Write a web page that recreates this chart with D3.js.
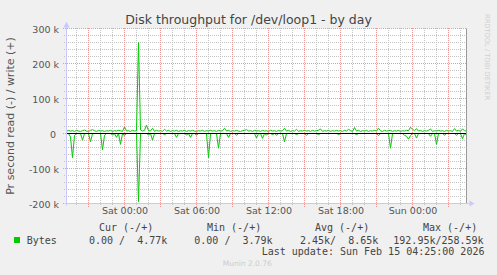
<!DOCTYPE html>
<html><head><meta charset="utf-8">
<script src="https://cdn.jsdelivr.net/npm/d3@7"></script>
<style>
html,body{margin:0;padding:0;background:#f0f0f0;}
svg{display:block;}
text{font-family:"DejaVu Sans",sans-serif;}
.mono{font-family:"DejaVu Sans Mono",monospace;white-space:pre;}
</style></head>
<body>
<svg id="c" width="497" height="275"></svg>
<script>
// ---- data ----
const title = "Disk throughput for /dev/loop1 - by day";
const yLabel = "Pr second read (-) / write (+)";
const startTime = Date.UTC(2026, 1, 13, 19, 10);
const endTime = Date.UTC(2026, 1, 15, 4, 30);
const stepMinutes = 10;
// write (+) in kB/s, one value per 10 minutes
const writeK = [
  6,9,7,8,6,9,7,6,8,10,7,6,9,11,8,6,9,7,8,6,
  8,7,9,6,8,7,9,8,6,19,7,8,6,9,7,8,260,10,7,9,
  24,8,7,15,6,9,7,8,6,12,7,9,6,8,7,9,6,8,7,9,
  6,8,7,9,7,6,8,7,9,6,8,7,9,7,8,6,9,7,8,15,
  7,9,6,8,7,9,7,6,8,9,11,7,8,6,9,7,8,6,9,7,
  8,6,9,7,8,6,9,7,8,15,7,9,6,8,7,12,6,8,7,9,
  7,8,6,9,7,8,9,13,6,8,7,9,6,8,7,9,7,8,6,9,
  7,12,8,6,17,7,9,6,8,7,9,6,8,7,9,7,15,8,6,9,
  7,8,9,6,8,7,9,6,8,7,9,8,18,12,8,14,7,9,6,8,
  7,9,13,6,8,7,9,7,8,6,9,7,8,6,14,7,9,6,13,8,7
];
// read (-) in kB/s, one value per 10 minutes (drawn below zero)
const readK = [
  0,0,10,69,5,0,0,0,19,0,0,0,24,0,0,0,0,0,47,5,
  0,0,0,4,0,11,0,31,0,6,0,0,0,0,0,0,195,0,0,0,
  0,4,0,19,0,0,0,0,0,3,0,0,0,0,0,11,0,0,0,0,
  4,0,11,0,0,5,0,0,0,0,0,69,0,0,0,0,42,0,0,0,
  0,11,0,0,0,5,0,0,0,0,0,0,0,0,0,13,0,0,14,0,
  4,0,0,3,0,5,0,0,0,24,0,0,0,0,0,3,0,0,0,0,
  5,0,0,0,0,0,3,0,0,0,0,0,0,0,0,0,3,0,0,0,
  0,0,0,0,0,3,0,0,0,0,0,0,0,0,0,0,6,0,0,0,
  0,0,42,0,0,0,0,0,0,5,8,16,6,0,0,13,0,0,0,0,
  0,0,8,0,0,31,0,0,0,5,0,0,0,0,0,5,0,0,15,0,4
];
const yTicks = [-200, -100, 0, 100, 200, 300];
const xTickTimes = ["2026-02-14T00:00:00Z","2026-02-14T06:00:00Z","2026-02-14T12:00:00Z","2026-02-14T18:00:00Z","2026-02-15T00:00:00Z"];
const seriesName = "Bytes";
const legendHeaders = ["Cur (-/+)", "Min (-/+)", "Avg (-/+)", "Max (-/+)"];
const legendValues = ["0.00 /  4.77k", "0.00 /  3.79k", "2.45k/  8.65k", "192.95k/258.59k"];
const lastUpdate = "Last update: Sun Feb 15 04:25:00 2026";
const version = "Munin 2.0.76";
const sideText = "RRDTOOL / TOBI OETIKER";

// ---- layout ----
const L = 66.5, R = 466.5, T = 28.5, B = 203.5;
const green = "#00cc00";
const svg = d3.select("#c");

const x = d3.scaleUtc().domain([new Date(startTime), new Date(endTime)]).range([L, R]);
const y = d3.scaleLinear().domain([-200, 300]).range([B, T]);

svg.append("rect").attr("x", L).attr("y", T).attr("width", R - L).attr("height", B - T).attr("fill", "#fff");

// grid (dash starts on whole pixels so dots stay crisp)
const minorY = d3.range(-200, 301, 20).filter(v => v % 100 !== 0);
const hours = d3.utcHour.range(new Date(startTime), new Date(endTime));
const minorX = hours.filter(d => d.getUTCHours() % 3 !== 0);
const majorX = hours.filter(d => d.getUTCHours() % 3 === 0);
const minorCol = "#c4c4c4", majorCol = "#ee9999";
const px = v => Math.round(v - 0.5) + 0.5;
const g = svg.append("g");
g.selectAll(".mgy").data(minorY).join("line")
  .attr("x1", 64).attr("x2", 467).attr("y1", d => px(y(d))).attr("y2", d => px(y(d)))
  .attr("stroke", minorCol).attr("stroke-dasharray", "1,1");
g.selectAll(".mgx").data(minorX).join("line")
  .attr("y1", 28).attr("y2", 206).attr("x1", d => px(x(d))).attr("x2", d => px(x(d)))
  .attr("stroke", minorCol).attr("stroke-dasharray", "1,1");
g.selectAll(".Mgy").data(yTicks).join("line")
  .attr("x1", 63).attr("x2", 467).attr("y1", d => px(y(d))).attr("y2", d => px(y(d)))
  .attr("stroke", majorCol).attr("stroke-dasharray", "1,1");
g.selectAll(".Mgx").data(majorX).join("line")
  .attr("y1", 28).attr("y2", 207).attr("x1", d => px(x(d))).attr("x2", d => px(x(d)))
  .attr("stroke", majorCol).attr("stroke-dasharray", "1,1");

// series
const t = i => new Date(startTime + i * stepMinutes * 60000);
const line = d3.line().x(d => x(d[0])).y(d => y(d[1]));
svg.append("path").datum(readK.map((v, i) => [t(i), -v]))
  .attr("d", line).attr("fill", "none").attr("stroke", green).attr("stroke-width", 1);
svg.append("path").datum(writeK.map((v, i) => [t(i), v]))
  .attr("d", line).attr("fill", "none").attr("stroke", green).attr("stroke-width", 1);

// zero line
svg.append("line").attr("x1", L).attr("x2", R).attr("y1", px(y(0))).attr("y2", px(y(0)))
  .attr("stroke", "#000").attr("stroke-width", 1);

// frame: right grey line, axes
svg.append("line").attr("x1", R).attr("x2", R).attr("y1", T).attr("y2", B).attr("stroke", "#999");
const axisCol = "#c8c8ff";
svg.append("line").attr("x1", L).attr("x2", L).attr("y1", B + 2).attr("y2", T - 2).attr("stroke", axisCol);
svg.append("line").attr("x1", L - 2).attr("x2", R + 3).attr("y1", B).attr("y2", B).attr("stroke", axisCol);
svg.append("path").attr("d", `M${L - 3},${T - 1}L${L + 3},${T - 1}L${L},${T - 7}Z`).attr("fill", axisCol);
svg.append("path").attr("d", `M${R + 3},${B - 3}L${R + 3},${B + 3}L${R + 8},${B}Z`).attr("fill", axisCol);

// y axis labels
const yAxis = d3.axisLeft(y).tickValues(yTicks).tickSize(0).tickPadding(0)
  .tickFormat(d => d === 0 ? "0 " : d + " k");
const ya = svg.append("g").attr("transform", "translate(59,0.8)").call(yAxis);
ya.select(".domain").remove();
ya.selectAll("text").attr("font-family", "DejaVu Sans").attr("font-size", "9.5px").attr("fill", "#555").style("white-space", "pre");

// x axis labels
const xAxis = d3.axisBottom(x).tickValues(xTickTimes.map(s => new Date(s))).tickSize(0).tickPadding(0)
  .tickFormat(d3.utcFormat("%a %H:%M"));
const xa = svg.append("g").attr("transform", "translate(0,207)").call(xAxis);
xa.select(".domain").remove();
xa.selectAll("text").attr("font-family", "DejaVu Sans").attr("font-size", "9.5px").attr("fill", "#555");

// title
svg.append("text").attr("x", 248.5).attr("y", 23.5).attr("text-anchor", "middle")
  .attr("font-size", "12.5px").attr("fill", "#444").text(title);
// y label
svg.append("text").attr("transform", "translate(14,116) rotate(-90)").attr("text-anchor", "middle")
  .attr("font-size", "11px").attr("fill", "#555").text(yLabel);
// side text
svg.append("text").attr("transform", "translate(485,14) rotate(90)")
  .attr("font-size", "6.7px").attr("fill", "#cfcfcf").text(sideText);

// legend
const hx = [99, 207, 315, 423];
const vx = [89, 194.3, 300, 393.3];
svg.selectAll(".lh").data(legendHeaders).join("text").attr("class", "mono")
  .attr("x", (d, i) => hx[i]).attr("y", 231).attr("font-size", "10px").attr("fill", "#444").text(d => d);
svg.append("rect").attr("x", 14).attr("y", 237).attr("width", 6).attr("height", 6).attr("fill", green);
svg.append("text").attr("class", "mono").attr("x", 26.7).attr("y", 243.6).attr("font-size", "10px").attr("fill", "#444").text(seriesName);
svg.selectAll(".lv").data(legendValues).join("text").attr("class", "mono")
  .attr("x", (d, i) => vx[i]).attr("y", 243.6).attr("font-size", "10px").attr("fill", "#444").text(d => d);
svg.append("text").attr("class", "mono").attr("x", 261.7).attr("y", 255.3).attr("font-size", "10px").attr("fill", "#444").text(lastUpdate);
svg.append("text").attr("x", 222.7).attr("y", 266).attr("font-size", "7.5px").attr("fill", "#cccccc").text(version);
</script>
</body></html>
